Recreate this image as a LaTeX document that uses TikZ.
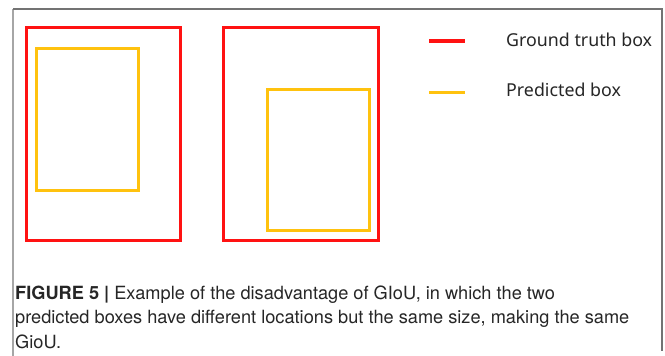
\documentclass[tikz,border=0pt]{standalone}
\usepackage{fontspec}
\setmainfont{TeX Gyre Heros}
\newfontfamily\legendfont{Noto Sans}
\usetikzlibrary{positioning}

\definecolor{gtred}{RGB}{255,18,18}
\definecolor{predyellow}{RGB}{255,194,14}

\tikzset{
  gtbox/.style={draw=gtred, line width=3pt},
  predbox/.style={draw=predyellow, line width=3pt},
  legline/.style={line width=3.5pt},
  legendtext/.style={anchor=base west, inner sep=0pt, text=black!85,
    font=\legendfont\fontsize{17.8}{17.8}\selectfont},
  captiontext/.style={anchor=base west, inner sep=0pt, align=left, text=black!85,
    font=\fontsize{18.2}{24.5}\selectfont},
}

\begin{document}
\begin{tikzpicture}[x=1pt,y=-1pt]
    \useasboundingbox (0,0) rectangle (665,356);

    % Draw the frame
    \draw[black!35, line width=1.3pt] (13,9) -- (13,356);
    \draw[black!55, line width=1.3pt] (13,9) -- (662,9) -- (662,351);

    % Ground truth boxes and predicted boxes
    \draw[gtbox] (26,27) rectangle (180,240);
    \draw[predbox] (36.5,48) rectangle (138,190);
    \draw[gtbox] (223.5,27) rectangle (378,240);
    \draw[predbox] (267.5,89) rectangle (369,230.5);

    % Legend
    \node[legendtext] (gt) at (506,46) {Ground truth box};
    \node[legendtext] (pred) at (506,96) {Predicted box};
    \coordinate (gtstart) at (429,41);
    \coordinate (gtend) at (465,41);
    \coordinate (predstart) at (429,92.5);
    \coordinate (predend) at (465,92.5);
    \draw[legline, gtred] (gtstart) -- (gtend);
    \draw[legline, predyellow] (predstart) -- (predend);

    % Caption (base is the last line)
    \node[captiontext] (caption) at (15,348) {\textbf{FIGURE 5 |} Example of the disadvantage of GIoU, in which the two\\
      predicted boxes have different locations but the same size, making the same\\
      GioU.};
\end{tikzpicture}
\end{document}
